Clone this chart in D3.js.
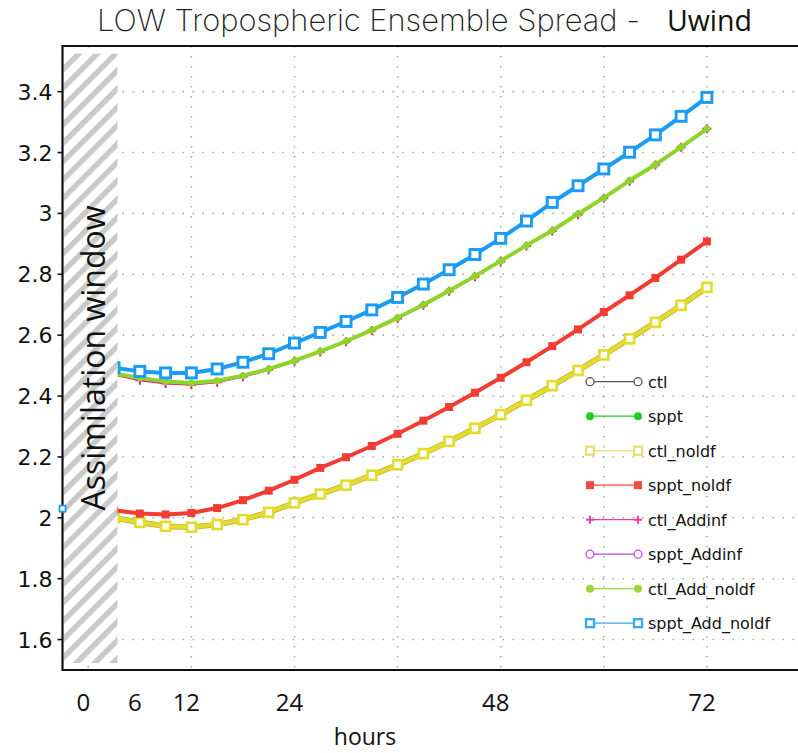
<!DOCTYPE html>
<html>
<head>
<meta charset="utf-8">
<script src="https://cdn.jsdelivr.net/npm/d3@7"></script>
<style>
  html, body { margin: 0; padding: 0; background: #fff; }
  #chart { width: 798px; height: 753px; }
</style>
</head>
<body>
<div id="chart"></div>
<script>
// Forecast hours (every 3 h) and spread values
const hours = [3, 6, 9, 12, 15, 18, 21, 24, 27, 30, 33, 36, 39, 42, 45, 48, 51, 54, 57, 60, 63, 66, 69, 72];

const ctlNoldf = [2.000, 1.985, 1.972, 1.969, 1.978, 1.994, 2.018, 2.049, 2.078, 2.107, 2.140, 2.174,
  2.211, 2.251, 2.294, 2.339, 2.386, 2.434, 2.484, 2.535, 2.588, 2.642, 2.698, 2.757];
const spptNoldf = [2.025, 2.014, 2.011, 2.016, 2.032, 2.058, 2.089, 2.125, 2.164, 2.199, 2.236, 2.276,
  2.319, 2.364, 2.411, 2.460, 2.511, 2.564, 2.619, 2.676, 2.731, 2.788, 2.848, 2.908];
const ctlAddinf = [2.470, 2.452, 2.441, 2.437, 2.445, 2.463, 2.486, 2.514, 2.545, 2.578, 2.615, 2.655,
  2.698, 2.744, 2.792, 2.842, 2.893, 2.942, 2.996, 3.050, 3.106, 3.159, 3.217, 3.278];
const ctlAddNoldf = [2.474, 2.459, 2.448, 2.443, 2.450, 2.467, 2.489, 2.516, 2.547, 2.580, 2.617, 2.657,
  2.700, 2.746, 2.794, 2.844, 2.895, 2.944, 2.998, 3.051, 3.108, 3.160, 3.218, 3.278];
const spptAddNoldf = [2.493, 2.481, 2.476, 2.476, 2.489, 2.511, 2.539, 2.574, 2.609, 2.645, 2.683, 2.724,
  2.768, 2.815, 2.865, 2.918, 2.975, 3.036, 3.091, 3.146, 3.201, 3.258, 3.319, 3.381];

// lone sppt_Add_noldf marker at the start of the assimilation window
const earlyHour = -3;
const earlyValue = 2.03;

const yTicks = [1.6, 1.8, 2, 2.2, 2.4, 2.6, 2.8, 3, 3.2, 3.4];
const yTickLabels = ['1.6', '1.8', '2', '2.2', '2.4', '2.6', '2.8', '3', '3.2', '3.4'];
const gridHours = [0, 12, 24, 36, 48, 60, 72];
const xLabelHours = [0, 6, 12, 24, 48, 72];

const legendNames = ['ctl', 'sppt', 'ctl_noldf', 'sppt_noldf', 'ctl_Addinf', 'sppt_Addinf', 'ctl_Add_noldf', 'sppt_Add_noldf'];
const legendColors = ['#555555', '#22cc22', '#e8e070', '#f24a40', '#e8409c', '#b84ad8', '#9ad83a', '#38a8f4'];
const legendSymbols = ['circle', 'dot', 'square', 'box', 'plus', 'circle', 'dot', 'square'];

const W = 798, H = 753;
const svg = d3.select('#chart').append('svg')
  .attr('width', W).attr('height', H)
  .attr('font-family', 'DejaVu Sans, sans-serif');

const x = d3.scaleLinear().domain([-3, 84]).range([62.5, 810]);
const y = d3.scaleLinear().domain([1.5, 3.55]).range([670, 46]);

const defs = svg.append('defs');
defs.append('clipPath').attr('id', 'plot-clip')
  .append('rect').attr('x', x(-3)).attr('y', y(3.55)).attr('width', x(84) - x(-3)).attr('height', y(1.5) - y(3.55));

const hatch = defs.append('pattern')
  .attr('id', 'hatch')
  .attr('patternUnits', 'userSpaceOnUse')
  .attr('width', 13).attr('height', 13)
  .attr('patternTransform', 'rotate(45)');
hatch.append('rect').attr('width', 13).attr('height', 13).attr('fill', '#fff');
hatch.append('rect').attr('width', 5.5).attr('height', 13).attr('fill', '#c9c9c9');

const plot = svg.append('g').attr('clip-path', 'url(#plot-clip)');

// dotted grid
plot.selectAll('.hgrid')
  .data(yTicks)
  .enter().append('line')
  .attr('x1', x(-3)).attr('x2', x(84))
  .attr('y1', (d) => y(d)).attr('y2', (d) => y(d))
  .attr('stroke', '#a8a8a8').attr('stroke-width', 1.6)
  .attr('stroke-dasharray', '1.6,8.4');
plot.selectAll('.vgrid')
  .data(gridHours)
  .enter().append('line')
  .attr('x1', (d) => x(d)).attr('x2', (d) => x(d))
  .attr('y1', y(3.55)).attr('y2', y(1.5))
  .attr('stroke', '#a8a8a8').attr('stroke-width', 1.6)
  .attr('stroke-dasharray', '1.6,8.4');

const lineGen = d3.line()
  .x((d) => x(d.h))
  .y((d) => y(d.v));

function rows(values) {
  return hours.map((h, i) => ({ h, v: values[i] }));
}

function drawSeries(values, opts) {
  const data = rows(values);
  if (opts.under) {
    plot.append('path').datum(data).attr('d', lineGen)
      .attr('fill', 'none').attr('stroke', opts.under).attr('stroke-width', opts.width + 1.6)
      .attr('stroke-linejoin', 'round');
  }
  plot.append('path').datum(data).attr('d', lineGen)
    .attr('fill', 'none').attr('stroke', opts.color).attr('stroke-width', opts.width)
    .attr('stroke-linejoin', 'round');
  const m = plot.append('g');
  data.forEach((d) => drawMarker(m, x(d.h), y(d.v), opts.marker, opts.color, opts.size));
}

function drawMarker(g, cx, cy, kind, color, size) {
  const s = size;
  if (kind === 'square') {
    g.append('rect').attr('x', cx - s / 2).attr('y', cy - s / 2).attr('width', s).attr('height', s)
      .attr('fill', '#fff').attr('stroke', color).attr('stroke-width', Math.max(1.4, s / 3.4));
  } else if (kind === 'box') {
    g.append('rect').attr('x', cx - s / 2).attr('y', cy - s / 2).attr('width', s).attr('height', s)
      .attr('fill', color);
  } else if (kind === 'dot') {
    g.append('circle').attr('cx', cx).attr('cy', cy).attr('r', s / 2).attr('fill', color);
  } else if (kind === 'circle') {
    g.append('circle').attr('cx', cx).attr('cy', cy).attr('r', s / 2)
      .attr('fill', '#fff').attr('stroke', color).attr('stroke-width', 1.3);
  } else if (kind === 'plus') {
    g.append('path').attr('d', `M${cx - s / 2},${cy}H${cx + s / 2}M${cx},${cy - s / 2}V${cy + s / 2}`)
      .attr('stroke', color).attr('stroke-width', 2);
  }
}

drawSeries(ctlNoldf, { color: '#e4dc2c', under: '#bdb43a', width: 4, marker: 'square', size: 9 });
drawSeries(spptNoldf, { color: '#f23c32', width: 4, marker: 'box', size: 8 });
drawSeries(ctlAddinf, { color: '#e0208a', width: 2, marker: 'plus', size: 9 });
drawSeries(ctlAddNoldf, { color: '#8fd42a', width: 4, marker: 'dot', size: 7 });
drawSeries(spptAddNoldf, { color: '#1a9cf6', width: 4, marker: 'square', size: 10 });

// assimilation window hatching
svg.append('rect')
  .attr('x', x(-3) + 1).attr('y', y(3.525))
  .attr('width', x(3.4) - x(-3) - 1).attr('height', y(1.523) - y(3.525))
  .attr('fill', 'url(#hatch)');

// frame
svg.append('path')
  .attr('d', `M${x(84)},${y(3.55)}H${x(-3)}V${y(1.5)}H${x(84)}`)
  .attr('fill', 'none').attr('stroke', '#111').attr('stroke-width', 2.2);

svg.append('g').call((g) => drawMarker(g, x(earlyHour), y(earlyValue), 'square', '#1a9cf6', 6));

// y ticks and labels
svg.selectAll('.ytick')
  .data(yTicks)
  .enter().append('line')
  .attr('x1', x(-3) - 5).attr('x2', x(-3))
  .attr('y1', (d) => y(d)).attr('y2', (d) => y(d))
  .attr('stroke', '#111').attr('stroke-width', 1.6);
svg.selectAll('.ylabel')
  .data(yTicks)
  .enter().append('text')
  .attr('x', x(-3) - 10)
  .attr('y', (d) => y(d) + 8)
  .attr('text-anchor', 'end')
  .attr('font-size', 22)
  .attr('fill', '#111')
  .text((d, i) => yTickLabels[i]);

// x labels (hand-placed in the original, slightly left of the grid)
svg.selectAll('.xlabel')
  .data(xLabelHours)
  .enter().append('text')
  .attr('x', (d) => x(d) - 5)
  .attr('y', 711)
  .attr('text-anchor', 'middle')
  .attr('font-family', 'Open Sans, sans-serif')
  .attr('font-size', 24)
  .attr('fill', '#111')
  .text((d) => d);

svg.append('text')
  .attr('x', 365).attr('y', 745)
  .attr('text-anchor', 'middle')
  .attr('font-family', 'Open Sans, sans-serif')
  .attr('font-size', 23)
  .attr('fill', '#111')
  .text('hours');

svg.append('text')
  .attr('transform', 'translate(105,358) rotate(-90)')
  .attr('text-anchor', 'middle')
  .attr('font-family', 'Open Sans, sans-serif')
  .attr('font-size', 32)
  .attr('fill', '#111')
  .text('Assimilation window');

// title
svg.append('text')
  .attr('x', 97).attr('y', 31)
  .attr('font-family', 'Inter, DejaVu Sans, sans-serif')
  .attr('font-weight', 200)
  .attr('font-size', 30)
  .attr('textLength', 543)
  .attr('lengthAdjust', 'spacingAndGlyphs')
  .attr('fill', '#222')
  .text('LOW Tropospheric Ensemble Spread -');
svg.append('text')
  .attr('x', 667).attr('y', 31)
  .attr('font-family', 'Open Sans, sans-serif')
  .attr('font-weight', 400)
  .attr('font-size', 29)
  .attr('textLength', 85)
  .attr('lengthAdjust', 'spacingAndGlyphs')
  .attr('fill', '#111')
  .text('Uwind');

// legend
const legend = svg.append('g');
legendNames.forEach((name, i) => {
  const ly = 381.7 + i * 34.5;
  legend.append('line')
    .attr('x1', 590).attr('x2', 638).attr('y1', ly).attr('y2', ly)
    .attr('stroke', legendColors[i]).attr('stroke-width', 1.3);
  [590, 638].forEach((lx) => drawMarker(legend, lx, ly, legendSymbols[i], legendColors[i], 8));
  legend.append('text')
    .attr('x', 648).attr('y', ly + 6)
    .attr('font-size', 16)
    .attr('fill', '#111')
    .text(name);
});
</script>
</body>
</html>
